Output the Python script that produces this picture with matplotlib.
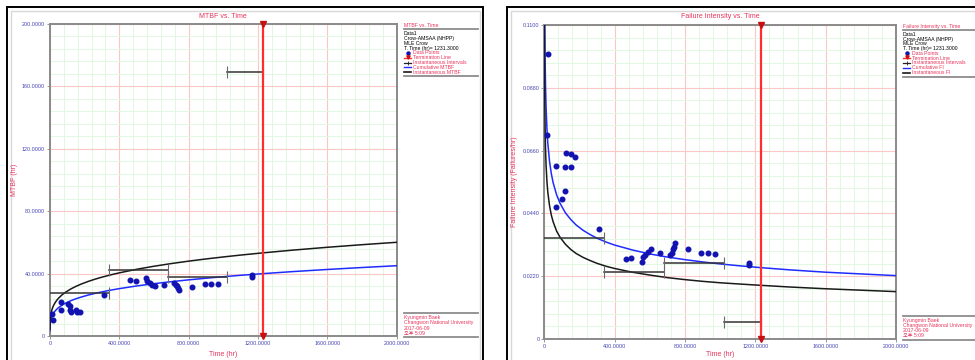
import matplotlib
matplotlib.use("Agg")
import matplotlib.pyplot as plt
from matplotlib.lines import Line2D
from matplotlib.patches import Rectangle
from matplotlib.ticker import MultipleLocator, FuncFormatter

plt.rcParams['font.family'] = ['Liberation Sans', 'Noto Sans CJK KR']

# failure times, with the plotted point values
fail_t = [14, 20, 65, 66, 102, 116, 116, 123, 149, 154, 173, 312, 464, 495, 553, 560,
          575, 590, 605, 660, 716, 725, 733, 740, 745, 820, 893, 930, 972, 1163, 1165]
mtbf_pts = [14.0, 10.0, 21.7, 16.5, 20.4, 19.3, 16.6, 15.4, 16.6, 15.4, 15.7, 26.0, 35.7,
            35.4, 36.9, 35.0, 33.8, 32.8, 31.8, 33.0, 34.1, 33.0, 31.9, 30.8, 29.8, 31.5,
            33.1, 33.2, 33.5, 38.8, 37.6]
fi_pts = [0.0714, 0.100, 0.0462, 0.0606, 0.0490, 0.0517, 0.0603, 0.0650, 0.0604, 0.0649,
          0.0636, 0.0385, 0.0280, 0.0283, 0.0271, 0.0286, 0.0296, 0.0305, 0.0314, 0.0303,
          0.0293, 0.0303, 0.0314, 0.0324, 0.0336, 0.0317, 0.0302, 0.0301, 0.0298, 0.0258,
          0.0266]

# fitted curves, read at a set of times
curve_t = [0.05, 0.5, 1, 2, 3, 5, 7, 10, 15, 20, 30, 40, 50, 70, 90, 120, 150, 180, 220,
           260, 300, 350, 400, 500, 600, 700, 800, 900, 1000, 1100, 1231.3, 1400, 1600,
           1800, 2000]
cum_mtbf = [3.36, 5.90, 7.00, 8.29, 9.16, 10.38, 11.27, 12.30, 13.58, 14.58, 16.10, 17.28,
            18.25, 19.82, 21.07, 22.61, 23.88, 24.97, 26.23, 27.32, 28.30, 29.39, 30.37,
            32.08, 33.54, 34.83, 35.99, 37.04, 38.01, 38.91, 40.00, 41.28, 42.65, 43.90,
            45.05]
inst_mtbf = [4.48, 7.87, 9.33, 11.05, 12.21, 13.84, 15.03, 16.40, 18.11, 19.44, 21.47,
             23.04, 24.33, 26.43, 28.09, 30.15, 31.84, 33.29, 34.97, 36.43, 37.73, 39.19,
             40.49, 42.77, 44.72, 46.44, 47.99, 49.39, 50.68, 51.88, 53.33, 55.04, 56.87,
             58.53, 60.07]
cum_fi = [0.298, 0.1695, 0.1429, 0.1206, 0.1092, 0.0963, 0.0887, 0.0813, 0.0736, 0.0686,
          0.0621, 0.0579, 0.0548, 0.0505, 0.0475, 0.0442, 0.0419, 0.0400, 0.0381, 0.0366,
          0.0353, 0.0340, 0.0329, 0.0312, 0.0298, 0.0287, 0.0278, 0.0270, 0.0263, 0.0257,
          0.0250, 0.0242, 0.0234, 0.0228, 0.0222]
inst_fi = [0.223, 0.1271, 0.1071, 0.0905, 0.0819, 0.0723, 0.0665, 0.0610, 0.0552, 0.0514,
           0.0466, 0.0434, 0.0411, 0.0378, 0.0356, 0.0332, 0.0314, 0.0300, 0.0286, 0.0275,
           0.0265, 0.0255, 0.0247, 0.0234, 0.0224, 0.0215, 0.0208, 0.0202, 0.0197, 0.0193,
           0.0188, 0.0182, 0.0176, 0.0171, 0.0166]

# instantaneous intervals
interval_edges = [0, 340, 680, 1020, 1231.3]
interval_mtbf = [27.8, 42.5, 37.6, 169.5]
interval_fi = [0.0355, 0.0236, 0.0265, 0.0061]

term_time = 1231.3

info_lines = ["Data1", "Crow-AMSAA (NHPP)", "MLE Crow", "T. Time (hr)= 1231.3000"]
footer_lines = ["Kyungmin Baek", "Changwon National University", "2017-06-09", "오후 5:09"]

RED = '#e8345c'
TICKBLUE = '#4545b5'
W, H = 975, 360

fig = plt.figure(figsize=(W / 100, H / 100), dpi=100)


def fx(x):
    return x / W


def fy(y):
    return 1 - y / H


def hline(x0, x1, y, color='#8c8c8c', lw=1.3):
    fig.add_artist(Line2D([fx(x0), fx(x1)], [fy(y), fy(y)], color=color, lw=lw))


def fmt(v, pos):
    return "0" if v == 0 else "%.4f" % v


def chart(frame, plot, ymax, title, ylabel, pts, cum, inst, ints, legend, names):
    # outer frame of the panel
    fx0, fy0, fx1 = frame
    fig.add_artist(Rectangle((fx(fx0), fy(400)), fx(fx1 - fx0), (400 - fy0) / H,
                             fill=False, ec='black', lw=1.4, clip_on=False))
    fig.add_artist(Rectangle((fx(fx0 + 3.5), fy(400)), fx(fx1 - fx0 - 7), (400 - fy0 - 3.5) / H,
                             fill=False, ec='#d8d8d8', lw=1.0, clip_on=False))

    x0, y0, x1, y1 = plot
    ax = fig.add_axes([fx(x0), fy(y1), fx(x1 - x0), (y1 - y0) / H])
    ax.set_xlim(0, 2000)
    ax.set_ylim(0, ymax)
    ax.xaxis.set_major_locator(MultipleLocator(400))
    ax.xaxis.set_minor_locator(MultipleLocator(80))
    ax.yaxis.set_major_locator(MultipleLocator(ymax / 5))
    ax.yaxis.set_minor_locator(MultipleLocator(ymax / 25))
    ax.xaxis.set_major_formatter(FuncFormatter(fmt))
    ax.yaxis.set_major_formatter(FuncFormatter(fmt))
    ax.grid(which='minor', color='#e2f8e2', lw=0.7)
    ax.grid(which='major', color='#fbc8c8', lw=0.8)
    ax.set_axisbelow(True)
    for s in ax.spines.values():
        s.set_color('#8a8a8a')
        s.set_linewidth(1.4)
    ax.tick_params(which='major', length=2, width=0.6, color='#888888', labelsize=3.9,
                   labelcolor=TICKBLUE, pad=1.5)
    ax.tick_params(which='minor', length=0)

    ax.plot(curve_t, cum, color='#1f2cff', lw=1.1, zorder=3)
    ax.plot(curve_t, inst, color='#1a1a1a', lw=1.1, zorder=3)

    for i, v in enumerate(ints):
        a, b = interval_edges[i], interval_edges[i + 1]
        ax.plot([a, b], [v, v], color='#333333', lw=1.1, zorder=4)
        ends = [b] if a == 0 else [a, b]
        ax.plot(ends, [v] * len(ends), ls='none', marker='|', ms=8, mew=0.8,
                color='#6a6a6a', zorder=4)

    ax.plot(fail_t, pts, ls='none', marker='o', ms=3.3, color='#1212b0', zorder=5)

    ax.axvline(term_time, color='#ff2e2e', lw=1.6, zorder=6)
    ax.plot([term_time, term_time], [ymax, 0], ls='none', marker='v', ms=4,
            color='#c81010', clip_on=False, zorder=7)

    fig.text(fx((x0 + x1) / 2), fy(16.5), title, color=RED, fontsize=5,
             ha='center', va='center')
    fig.text(fx((x0 + x1) / 2), fy(354), "Time (hr)", color=RED, fontsize=5,
             ha='center', va='center')
    fig.text(fx(ylabel[1]), fy((y0 + y1) / 2), ylabel[0], color=RED, fontsize=5,
             rotation=90, ha='center', va='center')

    # side legend
    lx0, lx1, ly, fy_top, fy_bot = legend
    fs = 3.7
    fig.text(fx(lx0), fy(ly - 1.5), title, color=RED, fontsize=fs, va='center')
    hline(lx0, lx1, ly + 2)
    yy = ly + 6.5
    for t in info_lines:
        fig.text(fx(lx0), fy(yy), t, color='black', fontsize=fs, va='center')
        yy += 4.8
    ix = lx0 + 3.5
    for k, name in enumerate(names):
        fig.text(fx(lx0 + 9), fy(yy), name, color=RED, fontsize=fs, va='center')
        if k == 0:
            fig.add_artist(Line2D([fx(ix)], [fy(yy - 0.5)], ls='none', marker='o', ms=2.2,
                                  color='#1212b0'))
        elif k == 1:
            fig.add_artist(Line2D([fx(lx0), fx(lx0 + 7)], [fy(yy), fy(yy)], color='#ff2e2e',
                                  lw=1.0))
            fig.add_artist(Line2D([fx(ix)], [fy(yy - 0.8)], ls='none', marker='v', ms=2.4,
                                  color='#c81010'))
        elif k == 2:
            fig.add_artist(Line2D([fx(lx0), fx(lx0 + 7)], [fy(yy), fy(yy)], color='#222222',
                                  lw=0.9))
            fig.add_artist(Line2D([fx(ix)], [fy(yy)], ls='none', marker='|', ms=3,
                                  mew=0.6, color='#222222'))
        elif k == 3:
            fig.add_artist(Line2D([fx(lx0), fx(lx0 + 7)], [fy(yy), fy(yy)], color='#1f2cff',
                                  lw=1.0))
        else:
            fig.add_artist(Line2D([fx(lx0), fx(lx0 + 7)], [fy(yy), fy(yy)], color='#1a1a1a',
                                  lw=1.2))
        yy += 4.8
    hline(lx0, lx1, yy - 0.8)

    # footer box
    hline(lx0, lx1, fy_top)
    yy = fy_top + 4.5
    for t in footer_lines:
        fig.text(fx(lx0), fy(yy), t, color=RED, fontsize=fs, va='center')
        yy += 5.1
    hline(lx0, lx1, fy_bot)
    return ax


chart((7, 7, 483), (50, 24, 396.7, 336), 200.0, "MTBF vs. Time", ("MTBF (hr)", 15),
      mtbf_pts, cum_mtbf, inst_mtbf, interval_mtbf, (404, 478, 27.3, 313.3, 337),
      ["Data Points", "Termination Line", "Instantaneous Intervals", "Cumulative MTBF",
       "Instantaneous MTBF"])

chart((507, 7, 1000), (544.3, 25, 896, 339), 0.11, "Failure Intensity vs. Time",
      ("Failure Intensity (Failures/hr)", 514.5),
      fi_pts, cum_fi, inst_fi, interval_fi, (903, 985, 27.7, 316, 339.5),
      ["Data Points", "Termination Line", "Instantaneous Intervals", "Cumulative FI",
       "Instantaneous FI"])

fig.savefig("out.png", dpi=100)
